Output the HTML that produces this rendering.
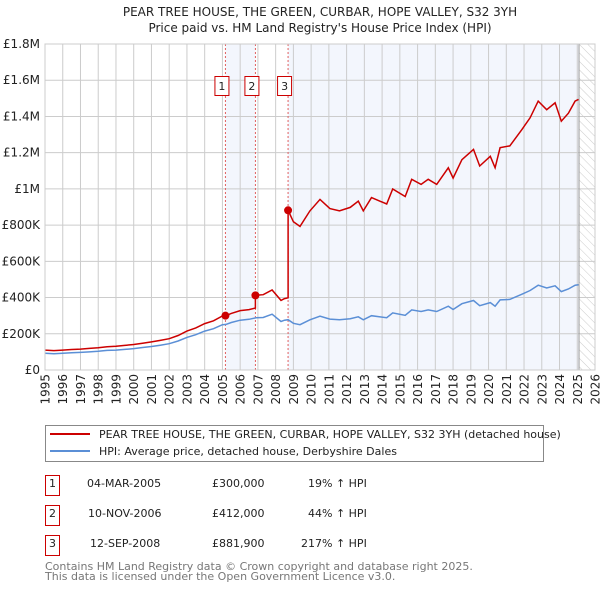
<!DOCTYPE html>
<html><head><meta charset="utf-8">
<style>
body{margin:0;background:#fff;font-family:"DejaVu Sans","Liberation Sans",sans-serif;}
svg text{font-family:"DejaVu Sans","Liberation Sans",sans-serif;}
</style></head>
<body>
<svg id="chart" width="600" height="590" xmlns="http://www.w3.org/2000/svg">
<defs>
<pattern id="hatch" width="6" height="6" patternUnits="userSpaceOnUse" patternTransform="rotate(-45)">
<line x1="0" y1="0" x2="0" y2="6" stroke="#ccc" stroke-width="1"/>
</pattern>
</defs>
<text x="320" y="16" text-anchor="middle" font-size="12" fill="#222">PEAR TREE HOUSE, THE GREEN, CURBAR, HOPE VALLEY, S32 3YH</text>
<text x="320" y="32" text-anchor="middle" font-size="12" fill="#222">Price paid vs. HM Land Registry's House Price Index (HPI)</text>
<g id="plot"></g>
<g>
<rect x="45.5" y="425.5" width="498" height="36" fill="#fff" stroke="#888"/>
<line x1="50" y1="434" x2="90" y2="434" stroke="#cc0000" stroke-width="2"/>
<text x="99" y="438" font-size="11" fill="#222">PEAR TREE HOUSE, THE GREEN, CURBAR, HOPE VALLEY, S32 3YH (detached house)</text>
<line x1="50" y1="451" x2="90" y2="451" stroke="#5b8fd6" stroke-width="2"/>
<text x="99" y="455" font-size="11" fill="#222">HPI: Average price, detached house, Derbyshire Dales</text>
</g>
<g font-size="11" fill="#222">
<rect x="45.5" y="475.5" width="14" height="20" fill="none" stroke="#cc0000"/><text x="52.5" y="487" text-anchor="middle">1</text>
<text x="87" y="487">04-MAR-2005</text><text x="212" y="487">£300,000</text><text x="308" y="487">19% ↑ HPI</text>
<rect x="45.5" y="505.5" width="14" height="20" fill="none" stroke="#cc0000"/><text x="52.5" y="517" text-anchor="middle">2</text>
<text x="88" y="517">10-NOV-2006</text><text x="212" y="517">£412,000</text><text x="308" y="517">44% ↑ HPI</text>
<rect x="45.5" y="535.5" width="14" height="20" fill="none" stroke="#cc0000"/><text x="52.5" y="547" text-anchor="middle">3</text>
<text x="90" y="547">12-SEP-2008</text><text x="212" y="547">£881,900</text><text x="301" y="547">217% ↑ HPI</text>
</g>
<text x="45" y="570" font-size="11" fill="#777">Contains HM Land Registry data © Crown copyright and database right 2025.</text>
<text x="45" y="580" font-size="11" fill="#777">This data is licensed under the Open Government Licence v3.0.</text>
</svg>
<script>
const hpiYears=[1995.0,1995.5,1996.0,1996.5,1997.0,1997.5,1998.0,1998.5,1999.0,1999.5,2000.0,2000.5,2001.0,2001.5,2002.0,2002.5,2003.0,2003.5,2004.0,2004.5,2005.0,2005.2,2005.5,2006.0,2006.5,2006.9,2007.3,2007.8,2008.3,2008.5,2008.7,2009.0,2009.37,2009.93,2010.5,2011.06,2011.6,2012.2,2012.66,2012.94,2013.4,2014.26,2014.6,2015.3,2015.67,2016.2,2016.6,2017.08,2017.73,2018.0,2018.5,2019.15,2019.5,2020.1,2020.37,2020.65,2021.2,2021.87,2022.34,2022.8,2023.28,2023.75,2024.1,2024.5,2024.88,2025.07];
const hpiValues=[92,90,92,95,97,100,103,108,110,114,118,124,130,137,145,160,180,195,215,228,250,252,262,275,280,288,290,308,268,275,278,258,250,277,297,281,277,283,294,277,300,289,315,302,332,323,332,323,352,334,366,384,355,372,352,387,390,418,439,468,453,465,433,447,468,471];
const saleYears=[2005.17,2006.86,2008.70];
const salePrices=[300,412,881.9];
const yTicks=[0,200,400,600,800,1000,1200,1400,1600,1800];
const yTickLabels=["£0","£200K","£400K","£600K","£800K","£1M","£1.2M","£1.4M","£1.6M","£1.8M"];
const xTicks=[1995,1996,1997,1998,1999,2000,2001,2002,2003,2004,2005,2006,2007,2008,2009,2010,2011,2012,2013,2014,2015,2016,2017,2018,2019,2020,2021,2022,2023,2024,2025,2026];

const L=45,R=595,T=44,B=370,x0=1995,x1=2026,yMax=1800;
const sx=y=>L+(y-x0)/(x1-x0)*(R-L);
const sy=v=>B-v/yMax*(B-T);
const NS="http://www.w3.org/2000/svg";
const plot=document.getElementById('plot');
function mk(tag,attrs,parent){const e=document.createElementNS(NS,tag);for(const k in attrs)e.setAttribute(k,attrs[k]);(parent||plot).appendChild(e);return e;}
function hpiAt(t){for(let i=1;i<hpiYears.length;i++){if(t<=hpiYears[i]){const f=(t-hpiYears[i-1])/(hpiYears[i]-hpiYears[i-1]);return hpiValues[i-1]+f*(hpiValues[i]-hpiValues[i-1]);}}return hpiValues[hpiValues.length-1];}

let bg=mk('rect',{x:L,y:T,width:R-L,height:B-T,fill:'#fff'});


const endYear=2025.1;
let sh1=mk('rect',{x:sx(saleYears[0]),y:T,width:sx(saleYears[1])-sx(saleYears[0]),height:B-T,fill:'#f3f6fd'});


let sh2=mk('rect',{x:sx(saleYears[2]),y:T,width:sx(endYear)-sx(saleYears[2]),height:B-T,fill:'#f3f6fd'});


let ht=mk('rect',{x:sx(endYear),y:T,width:R-sx(endYear),height:B-T,fill:'url(#hatch)'});



xTicks.forEach(t=>{
  const x=sx(t);
  let g=mk('line',{x1:x,y1:T,x2:x,y2:B,stroke:'#ccc','stroke-width':1});
  
  
  let tx=mk('text',{x:0,y:0,'text-anchor':'end','font-size':12,fill:'#222',transform:'translate('+(x+4.5)+','+(B+4)+') rotate(-90)'});
  tx.textContent=t;
  
  
});
yTicks.forEach((v,i)=>{
  const y=sy(v);
  let g=mk('line',{x1:L,y1:y,x2:R,y2:y,stroke:'#ccc','stroke-width':1});
  
  
  let tx=mk('text',{x:L-5,y:y+4,'text-anchor':'end','font-size':12,fill:'#222'});
  tx.textContent=yTickLabels[i];
  
  
});
let el=mk('line',{x1:sx(endYear),y1:T,x2:sx(endYear),y2:B,stroke:'#999','stroke-width':1});



saleYears.forEach((t,i)=>{
  const x=sx(t);
  let d=mk('line',{x1:x,y1:T,x2:x,y2:B,stroke:'#e06060','stroke-width':1,'stroke-dasharray':'2,2'});
  
  
  let bx=mk('rect',{x:x-10.5,y:76.5,width:14,height:19,fill:'#fff',stroke:'#cc0000'});
  
  
  let tx=mk('text',{x:x-3.5,y:90,'text-anchor':'middle','font-size':11,fill:'#222'});
  tx.textContent=String(i+1);
  
  
});

const hpiPts=hpiYears.map((t,i)=>sx(t).toFixed(1)+','+sy(hpiValues[i]).toFixed(1));
let hl=mk('polyline',{points:hpiPts.join(' '),fill:'none',stroke:'#5b8fd6','stroke-width':1.5});



const ratios=saleYears.map((t,i)=>salePrices[i]/hpiAt(t));
function ratioAt(t){let r=ratios[0];for(let i=0;i<saleYears.length;i++)if(t>=saleYears[i])r=ratios[i];return r;}
let pts=[];
const allT=hpiYears.concat(saleYears).sort((a,b)=>a-b);
allT.forEach(t=>{
  const idx=saleYears.indexOf(t);
  if(idx>0){pts.push([t,hpiAt(t)*ratios[idx-1]]);}
  pts.push([t,hpiAt(t)*ratioAt(t)]);
});
let pl=mk('polyline',{points:pts.map(p=>sx(p[0]).toFixed(1)+','+sy(p[1]).toFixed(1)).join(' '),fill:'none',stroke:'#cc0000','stroke-width':1.5});



saleYears.forEach((t,i)=>{
  let c=mk('circle',{cx:sx(t),cy:sy(salePrices[i]),r:4,fill:'#cc0000'});
  
  
});
let fr=mk('rect',{x:L,y:T,width:R-L,height:B-T,fill:'none',stroke:'#ccc'});


</script>
</body></html>
